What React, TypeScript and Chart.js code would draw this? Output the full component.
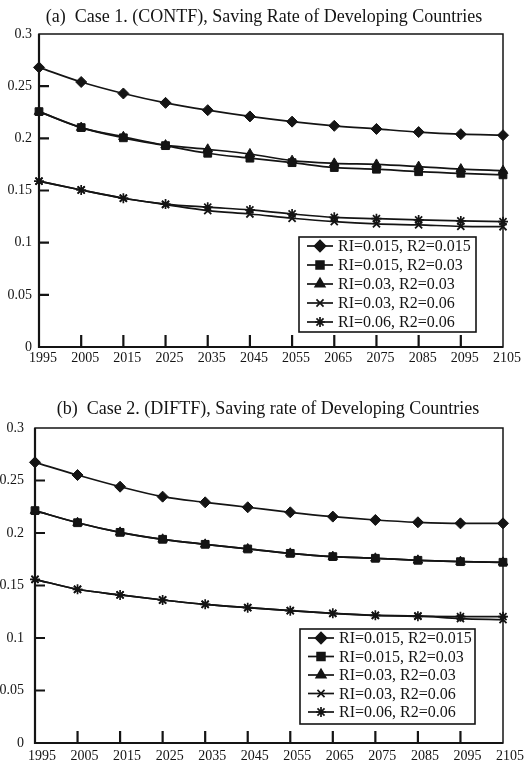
import React, { useEffect, useRef } from 'react';
import { Chart, registerables } from 'chart.js';
import { drawPoint } from 'chart.js/helpers';

Chart.register(...registerables);

// ---- data -------------------------------------------------------------
const YEARS = ['1995', '2005', '2015', '2025', '2035', '2045', '2055', '2065', '2075', '2085', '2095', '2105'];

const SERIES_LABELS = [
  'RI=0.015, R2=0.015',
  'RI=0.015, R2=0.03',
  'RI=0.03, R2=0.03',
  'RI=0.03, R2=0.06',
  'RI=0.06, R2=0.06',
];

// Case 1 (CONTF)
const contfA = [0.268, 0.254, 0.243, 0.234, 0.227, 0.221, 0.216, 0.212, 0.209, 0.206, 0.204, 0.203];
const contfB = [0.2256, 0.2103, 0.2005, 0.193, 0.1857, 0.181, 0.1767, 0.172, 0.1704, 0.168, 0.1665, 0.165];
const contfC = [0.2256, 0.2103, 0.2015, 0.1935, 0.1895, 0.185, 0.1786, 0.176, 0.175, 0.1729, 0.1705, 0.169];
const contfD = [0.159, 0.1505, 0.1426, 0.1365, 0.1307, 0.1275, 0.1234, 0.1201, 0.118, 0.117, 0.1157, 0.1153];
const contfE = [0.159, 0.1505, 0.1426, 0.137, 0.134, 0.1314, 0.1275, 0.1243, 0.123, 0.1218, 0.1208, 0.1201];

// Case 2 (DIFTF)
const diftfA = [0.2673, 0.2552, 0.2441, 0.2346, 0.2292, 0.2245, 0.2197, 0.2156, 0.2124, 0.2102, 0.2092, 0.2092];
const diftfB = [0.2213, 0.2098, 0.2006, 0.194, 0.1892, 0.1848, 0.1806, 0.1775, 0.1759, 0.174, 0.1727, 0.1721];
const diftfC = [0.2213, 0.2098, 0.2006, 0.194, 0.1892, 0.1848, 0.1806, 0.1775, 0.1759, 0.174, 0.1727, 0.1721];
const diftfD = [0.1559, 0.1464, 0.141, 0.1362, 0.1321, 0.1289, 0.126, 0.1235, 0.1216, 0.121, 0.1185, 0.1175];
const diftfE = [0.1559, 0.1464, 0.141, 0.1362, 0.1321, 0.1289, 0.126, 0.1235, 0.1216, 0.1206, 0.1203, 0.1203];

// ---- styling ----------------------------------------------------------
const INK = '#141414';
const SERIF = "'Liberation Serif', 'DejaVu Serif', serif";

const MARKERS = [
  { pointStyle: 'rectRot', radius: 5.5, borderWidth: 1 },
  { pointStyle: 'rect', radius: 5.5, borderWidth: 1 },
  { pointStyle: 'triangle', radius: 5.5, borderWidth: 1 },
  { pointStyle: 'crossRot', radius: 5, borderWidth: 1.8 },
  { pointStyle: 'star', radius: 5, borderWidth: 1.7 },
];

// Heading drawn at a fixed spot above the plot
const headingPlugin = {
  id: 'heading',
  afterDraw(chart: any, _args: any, opts: any) {
    const { ctx } = chart;
    ctx.save();
    ctx.fillStyle = INK;
    ctx.font = `18px ${SERIF}`;
    ctx.textAlign = 'center';
    ctx.textBaseline = 'middle';
    ctx.fillText(opts.text, opts.cx, opts.cy);
    ctx.restore();
  },
};

// Plot frame plus the inward-pointing tick marks
const framePlugin = {
  id: 'frame',
  beforeDatasetsDraw(chart: any) {
    const { ctx, chartArea, scales } = chart;
    const { left, right, top, bottom } = chartArea;
    ctx.save();
    ctx.strokeStyle = INK;
    ctx.lineWidth = 1.5;
    ctx.strokeRect(left, top, right - left, bottom - top);
    ctx.lineWidth = 2.2;
    ctx.beginPath();
    ctx.moveTo(left, top);
    ctx.lineTo(left, bottom);
    ctx.lineTo(right, bottom);
    const xs = scales.x;
    const n = xs.ticks.length;
    for (let i = 1; i < n - 1; i++) {
      const px = xs.getPixelForTick(i);
      ctx.moveTo(px, bottom);
      ctx.lineTo(px, bottom - 12);
    }
    const ys = scales.y;
    ys.ticks.forEach((t: any) => {
      if (t.value < 0.01 || t.value > 0.29) return;
      const py = ys.getPixelForValue(t.value);
      ctx.moveTo(left, py);
      ctx.lineTo(left + 10, py);
    });
    ctx.stroke();
    ctx.restore();
  },
};

// Boxed legend inside the plot area, lower right
const boxLegendPlugin = {
  id: 'boxLegend',
  afterDraw(chart: any, _args: any, opts: any) {
    const { ctx, chartArea } = chart;
    const x0 = chartArea.right - opts.rightGap - opts.width;
    const y0 = chartArea.bottom - opts.bottomGap - opts.height;
    ctx.save();
    ctx.fillStyle = '#ffffff';
    ctx.fillRect(x0, y0, opts.width, opts.height);
    ctx.strokeStyle = INK;
    ctx.lineWidth = 1.6;
    ctx.strokeRect(x0, y0, opts.width, opts.height);
    ctx.font = `16px ${SERIF}`;
    ctx.textBaseline = 'middle';
    ctx.textAlign = 'left';
    chart.data.datasets.forEach((ds: any, i: number) => {
      const cy = y0 + opts.firstRow + i * opts.rowStep;
      ctx.strokeStyle = INK;
      ctx.lineWidth = 1.7;
      ctx.beginPath();
      ctx.moveTo(x0 + 8, cy);
      ctx.lineTo(x0 + 34, cy);
      ctx.stroke();
      ctx.fillStyle = INK;
      drawPoint(ctx, {
        pointStyle: ds.pointStyle,
        radius: ds.pointRadius,
        borderWidth: ds.pointBorderWidth,
        rotation: 0,
      } as any, x0 + 21, cy);
      ctx.fillStyle = INK;
      ctx.fillText(ds.label, x0 + 39, cy + 1);
    });
    ctx.restore();
  },
};

type PanelProps = {
  title: string;
  titleX: number;
  titleY: number;
  series: number[][];
  height: number;
  plotTop: number;
  yAxisWidth: number;
  xAxisHeight: number;
  yLabelPad: number;
  xLabelPad: number;
  xLabelShift: number;
  legend: { rightGap: number; bottomGap: number; width: number; height: number; firstRow: number; rowStep: number };
};

function Panel(p: PanelProps) {
  const ref = useRef<HTMLCanvasElement>(null);

  useEffect(() => {
    if (!ref.current) return;
    const chart = new Chart(ref.current, {
      type: 'line',
      data: {
        labels: YEARS,
        datasets: p.series.map((vals, i) => ({
          label: SERIES_LABELS[i],
          data: vals,
          borderColor: INK,
          backgroundColor: INK,
          borderWidth: 1.7,
          pointStyle: MARKERS[i].pointStyle as any,
          pointRadius: MARKERS[i].radius,
          pointBorderWidth: MARKERS[i].borderWidth,
          pointBackgroundColor: INK,
          pointBorderColor: INK,
          cubicInterpolationMode: 'monotone' as const,
          clip: false as any,
        })),
      },
      options: {
        responsive: false,
        animation: false,
        events: [],
        layout: { padding: { left: 0, right: 23, top: p.plotTop, bottom: 0 } },
        plugins: {
          legend: { display: false },
          tooltip: { enabled: false },
          title: { display: false },
          heading: { text: p.title, cx: p.titleX, cy: p.titleY },
          boxLegend: p.legend,
        } as any,
        scales: {
          x: {
            type: 'category',
            offset: false,
            grid: { display: false, drawTicks: false },
            border: { display: false },
            ticks: {
              color: INK,
              font: { family: SERIF, size: 14 },
              padding: p.xLabelPad,
              labelOffset: p.xLabelShift,
              maxRotation: 0,
              autoSkip: false,
            },
            afterFit: (s: any) => { s.height = p.xAxisHeight; },
          },
          y: {
            min: 0,
            max: 0.3,
            grid: { display: false, drawTicks: false },
            border: { display: false },
            ticks: {
              stepSize: 0.05,
              color: INK,
              font: { family: SERIF, size: 14 },
              padding: p.yLabelPad,
              callback: (v: any) => String(Number(Number(v).toFixed(2))),
            },
            afterFit: (s: any) => { s.width = p.yAxisWidth; },
          },
        },
      },
      plugins: [framePlugin, boxLegendPlugin, headingPlugin],
    });
    return () => chart.destroy();
  }, []);

  return <canvas ref={ref} width={526} height={p.height} style={{ display: 'block', width: 526, height: p.height }} />;
}

export default function App() {
  return (
    <div style={{ position: 'absolute', left: 0, top: 0, width: 526, height: 765, background: '#fff', overflow: 'hidden' }}>
      <Panel
        title="(a)  Case 1. (CONTF), Saving Rate of Developing Countries"
        titleX={264}
        titleY={17}
        series={[contfA, contfB, contfC, contfD, contfE]}
        height={380}
        plotTop={34}
        yAxisWidth={39}
        xAxisHeight={33}
        yLabelPad={7}
        xLabelPad={3}
        xLabelShift={4}
        legend={{ rightGap: 27, bottomGap: 15, width: 177, height: 95, firstRow: 9, rowStep: 19 }}
      />
      <Panel
        title="(b)  Case 2. (DIFTF), Saving rate of Developing Countries"
        titleX={268}
        titleY={29}
        series={[diftfA, diftfB, diftfC, diftfD, diftfE]}
        height={385}
        plotTop={48}
        yAxisWidth={35}
        xAxisHeight={22}
        yLabelPad={11}
        xLabelPad={5}
        xLabelShift={7}
        legend={{ rightGap: 28, bottomGap: 19, width: 175, height: 95, firstRow: 9, rowStep: 18.5 }}
      />
    </div>
  );
}
